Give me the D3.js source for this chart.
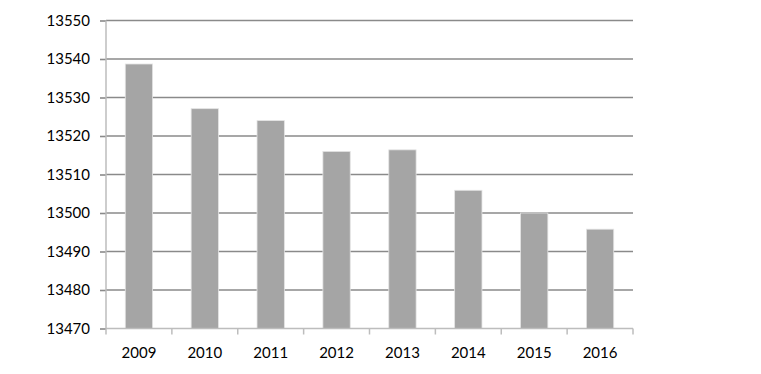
<!DOCTYPE html>
<html>
<head>
<meta charset="utf-8">
<script src="https://cdn.jsdelivr.net/npm/d3@7"></script>
<style>
  body { margin: 0; background: #fff; }
  .tick text { font-family: Lato, "Open Sans", sans-serif; font-size: 15px; fill: #000; }
</style>
</head>
<body>
<div id="chart"></div>
<script>
// chart data
const years = ["2009", "2010", "2011", "2012", "2013", "2014", "2015", "2016"];
const values = [13538.7, 13527.1, 13524.0, 13516.0, 13516.4, 13505.9, 13500.0, 13495.8];
const yTicks = [13470, 13480, 13490, 13500, 13510, 13520, 13530, 13540, 13550];

const svgWidth = 761;
const svgHeight = 374;
const margin = { top: 20.5, right: 128, bottom: 45.5, left: 106 };
const width = svgWidth - margin.left - margin.right;
const height = svgHeight - margin.top - margin.bottom;

const svg = d3.select("#chart")
    .append("svg")
    .attr("width", svgWidth)
    .attr("height", svgHeight);

const chartGroup = svg.append("g")
    .attr("transform", `translate(${margin.left}, ${margin.top})`);

const xScale = d3.scaleBand()
    .domain(years)
    .range([0, width])
    .paddingInner(0.585)
    .paddingOuter(0.2925);

const yScale = d3.scaleLinear()
    .domain([13470, 13550])
    .range([height, 0]);

// gridlines
chartGroup.append("g")
    .selectAll("line")
    .data(yTicks.slice(1))
    .enter()
    .append("line")
    .attr("x1", 0)
    .attr("x2", width)
    .attr("y1", d => yScale(d))
    .attr("y2", d => yScale(d))
    .attr("stroke", "#8a8a8a")
    .attr("stroke-width", 1.6);

// bars
chartGroup.selectAll("rect.bar")
    .data(values)
    .enter()
    .append("rect")
    .attr("class", "bar")
    .attr("x", (d, i) => xScale(years[i]))
    .attr("y", d => yScale(d))
    .attr("width", xScale.bandwidth())
    .attr("height", d => height - yScale(d))
    .attr("fill", "#a5a5a5")
    .attr("stroke", "#e4e4e4")
    .attr("stroke-width", 0.8);

// y axis
const leftAxis = d3.axisLeft(yScale)
    .tickValues(yTicks)
    .tickSize(6)
    .tickPadding(10)
    .tickFormat(d3.format("d"));

const yAxis = chartGroup.append("g").call(leftAxis);
yAxis.select(".domain").remove();
yAxis.selectAll(".tick line").attr("stroke", "#8a8a8a").attr("stroke-width", 1.6);
chartGroup.append("line")
    .attr("x1", 0).attr("x2", 0)
    .attr("y1", 0).attr("y2", height)
    .attr("stroke", "#bdbdbd").attr("stroke-width", 1.5);

// x axis
const xAxisGroup = chartGroup.append("g")
    .attr("transform", `translate(0, ${height})`);

xAxisGroup.append("line")
    .attr("x1", 0).attr("x2", width)
    .attr("stroke", "#bdbdbd").attr("stroke-width", 1.5);

xAxisGroup.selectAll("line.sep")
    .data(d3.range(years.length + 1))
    .enter()
    .append("line")
    .attr("class", "sep")
    .attr("x1", i => i * width / years.length)
    .attr("x2", i => i * width / years.length)
    .attr("y1", 0)
    .attr("y2", 6)
    .attr("stroke", "#bdbdbd")
    .attr("stroke-width", 1.5);

xAxisGroup.selectAll("text")
    .data(years)
    .enter()
    .append("text")
    .attr("x", d => xScale(d) + xScale.bandwidth() / 2)
    .attr("y", 29)
    .attr("text-anchor", "middle")
    .style("font-family", "Lato, 'Open Sans', sans-serif")
    .style("font-size", "15px")
    .text(d => d);
</script>
</body>
</html>
